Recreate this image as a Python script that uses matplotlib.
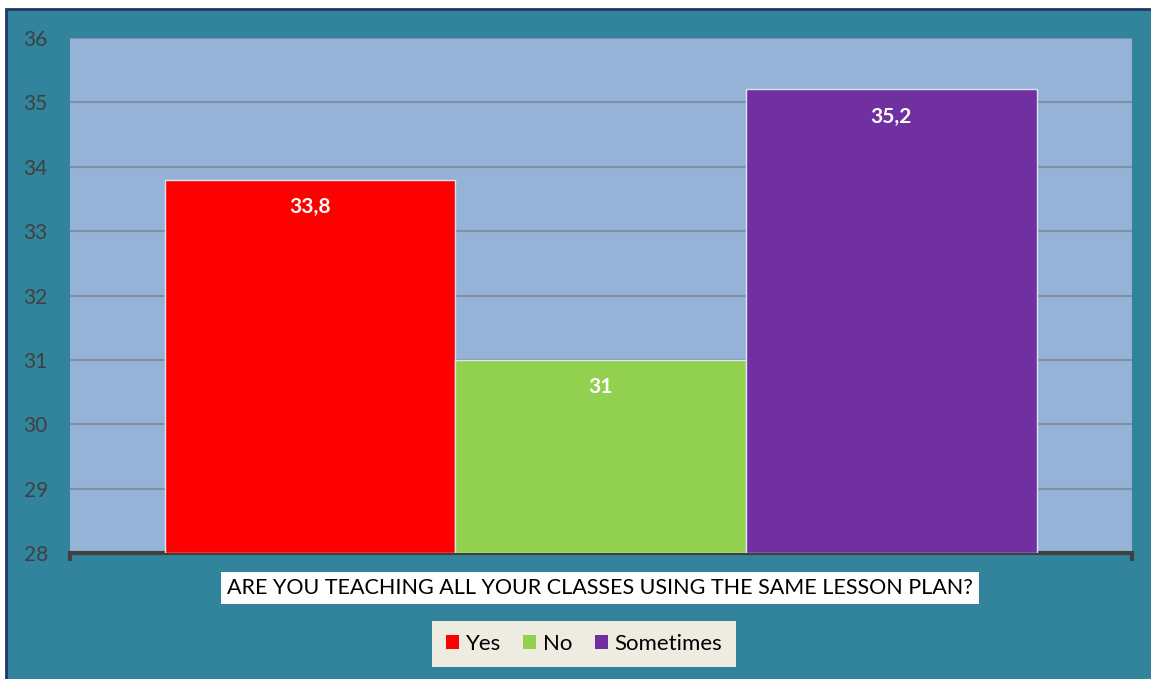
import matplotlib.pyplot as plt
from matplotlib.patches import Rectangle, Patch

categories = ['Yes', 'No', 'Sometimes']
values = [33.8, 31.0, 35.2]
value_labels = ['33,8', '31', '35,2']
colors = ['#FF0000', '#92D050', '#7030A0']
yticks = [28, 29, 30, 31, 32, 33, 34, 35, 36]
question = 'ARE YOU TEACHING ALL YOUR CLASSES USING THE SAME LESSON PLAN?'

plt.rcParams['font.family'] = ['Lato', 'DejaVu Sans']

fig = plt.figure(figsize=(11.51, 6.79), dpi=100, facecolor='white')
# teal chart area with navy border (behind the axes)
fig.patches.append(Rectangle((6 / 1151, -0.01), 1.0, 1 - 9 / 679 + 0.01,
                             transform=fig.transFigure, facecolor='#31849B',
                             edgecolor='#1F3864', lw=2, zorder=-5))

ax = fig.add_axes([70 / 1151, 1 - 553 / 679, 1062 / 1151, 515 / 679])
ax.set_facecolor('#95B3D7')

x = range(len(categories))
bars = ax.bar(x, [v - 28 for v in values], bottom=28, width=1.0, color=colors,
              edgecolor='#DCE6F2', linewidth=1, zorder=3)
ax.bar_label(bars, labels=value_labels, padding=-27, color='white',
             fontsize=15, fontweight='bold', zorder=4)

ax.set_xlim(-0.826, 2.828)
ax.set_ylim(28, 36)
ax.set_yticks(yticks)
ax.yaxis.grid(True, color='#7F8FA6', lw=1.5, zorder=1)
ax.set_axisbelow(True)
ax.tick_params(axis='y', length=0, pad=16, labelsize=15, labelcolor='#404040')
ax.set_xticks([-0.826, 2.828])
ax.set_xticklabels(['', ''])
ax.tick_params(axis='x', length=6, width=3, color='#404040', direction='out')

for s in ['left', 'right', 'top']:
    ax.spines[s].set_visible(False)
ax.spines['bottom'].set_color('#404040')
ax.spines['bottom'].set_linewidth(3)

fig.text(600 / 1151, 1 - 588 / 679, question, ha='center', va='center',
         fontsize=15.5, color='black',
         bbox=dict(facecolor='white', edgecolor='none', pad=4))

handles = [Patch(facecolor=c, edgecolor='none') for c in colors]
leg = fig.legend(handles, categories, loc='center', ncol=3,
                 bbox_to_anchor=(584 / 1151, 1 - 644 / 679), fontsize=16,
                 frameon=True, fancybox=False, handlelength=0.6,
                 handleheight=0.6, handletextpad=0.3, columnspacing=1.0,
                 borderpad=0.6, borderaxespad=0)
leg.get_frame().set_facecolor('#EEECE1')
leg.get_frame().set_edgecolor('none')
leg.get_frame().set_alpha(1)

fig.savefig('out.png', dpi=100, facecolor=fig.get_facecolor())
